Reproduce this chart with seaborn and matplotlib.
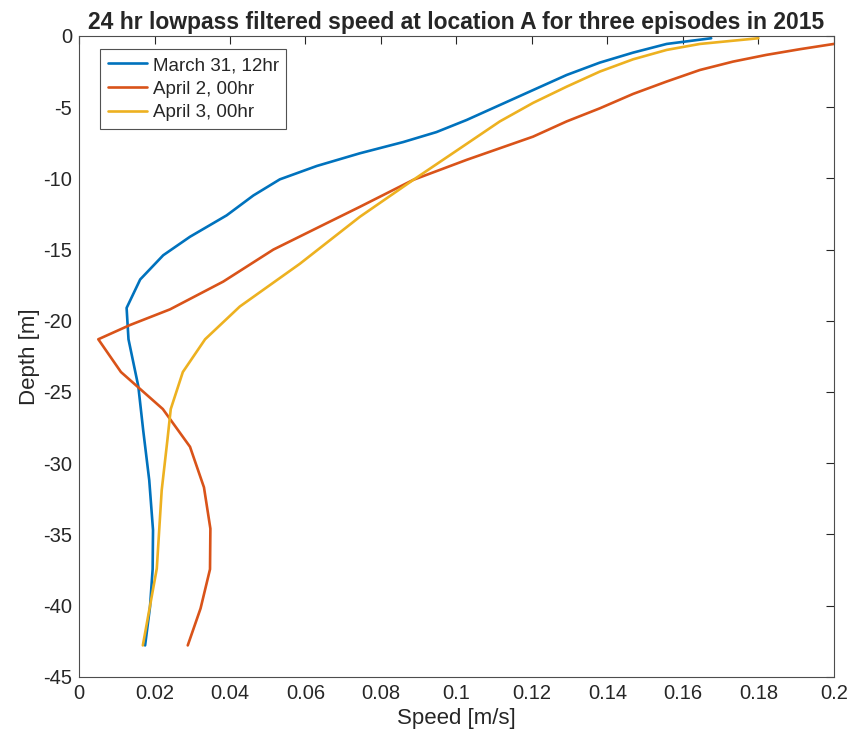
import numpy as np
import pandas as pd
import matplotlib
matplotlib.use("Agg")
import matplotlib.pyplot as plt
import seaborn as sns

# values (speed in m/s, depth in m)
mar31_speed = [0.0175, 0.0188, 0.0195, 0.0196, 0.0186, 0.0170, 0.0157, 0.0131, 0.0126,
               0.0162, 0.0223, 0.0294, 0.0391, 0.0462, 0.0532, 0.0630, 0.0744, 0.0859,
               0.0947, 0.1027, 0.1115, 0.1203, 0.1292, 0.1380, 0.1468, 0.1557, 0.1675]
mar31_depth = [-42.8, -40.1, -37.45, -34.7, -31.2, -27.7, -24.6, -21.3, -19.1,
               -17.1, -15.4, -14.1, -12.6, -11.2, -10.07, -9.13, -8.24, -7.45,
               -6.75, -5.9, -4.85, -3.8, -2.74, -1.87, -1.17, -0.56, -0.16]

apr2_speed = [0.0288, 0.0322, 0.0347, 0.0348, 0.0331, 0.0294, 0.0222, 0.0111, 0.0051,
              0.0135, 0.0241, 0.0382, 0.0515, 0.0656, 0.0744, 0.0886, 0.1027, 0.1203,
              0.1292, 0.1380, 0.1468, 0.1557, 0.1645, 0.1733, 0.1821, 0.1910, 0.2000]
apr2_depth = [-42.8, -40.2, -37.45, -34.6, -31.7, -28.85, -26.2, -23.6, -21.3,
              -20.3, -19.2, -17.25, -15.0, -13.15, -12.0, -10.1, -8.7, -7.07,
              -6.0, -5.08, -4.07, -3.2, -2.39, -1.8, -1.33, -0.93, -0.56]

apr3_speed = [0.0169, 0.0206, 0.0219, 0.0234, 0.0243, 0.0275, 0.0334, 0.0426, 0.0585,
              0.0744, 0.0886, 0.1009, 0.1115, 0.1203, 0.1292, 0.1380, 0.1468,
              0.1557, 0.1645, 0.1800]
apr3_depth = [-42.8, -37.4, -31.9, -28.4, -26.2, -23.6, -21.3, -19.0, -16.0,
              -12.7, -10.1, -7.9, -6.0, -4.7, -3.56, -2.5, -1.64,
              -0.98, -0.56, -0.16]

labels = ["March 31, 12hr", "April 2, 00hr", "April 3, 00hr"]
colors = ["#0072BD", "#D95319", "#EDB120"]

frames = []
for lab, s, d in zip(labels, [mar31_speed, apr2_speed, apr3_speed],
                     [mar31_depth, apr2_depth, apr3_depth]):
    frames.append(pd.DataFrame({"speed": s, "depth": d, "episode": lab}))
df = pd.concat(frames, ignore_index=True)

sns.set_style("white")
plt.rcParams['font.family'] = ['Liberation Sans', 'DejaVu Sans']
plt.rcParams['axes.unicode_minus'] = False

fig = plt.figure(figsize=(8.5, 7.34), dpi=100)
ax = fig.add_axes([0.093, 0.078, 0.888, 0.873])

sns.lineplot(data=df, x="speed", y="depth", hue="episode", palette=colors,
             sort=False, estimator=None, linewidth=1.9, ax=ax)

ax.set_xlim(0, 0.2)
ax.set_ylim(-45, 0)
ax.set_xticks(np.arange(0, 0.201, 0.02))
ax.set_xticklabels(["0", "0.02", "0.04", "0.06", "0.08", "0.1", "0.12", "0.14",
                    "0.16", "0.18", "0.2"])
ax.set_yticks(np.arange(-45, 1, 5))
ax.set_yticklabels([str(v) for v in range(-45, 1, 5)])
ax.tick_params(direction="in", length=6, width=0.8, colors="#262626",
               labelsize=14.5, top=True, right=True, pad=5)
for sp in ax.spines.values():
    sp.set_color("#4d4d4d")
    sp.set_linewidth(0.8)

ax.set_xlabel("Speed [m/s]", fontsize=16, color="#262626", labelpad=4)
ax.set_ylabel("Depth [m]", fontsize=16, color="#262626", labelpad=2)
ax.set_title("24 hr lowpass filtered speed at location A for three episodes in 2015",
             fontsize=16.5, fontweight="bold", pad=5)

leg = ax.legend(loc="upper left", bbox_to_anchor=(0.028, 0.979), fontsize=13.5,
                frameon=True, fancybox=False, edgecolor="#262626",
                handlelength=2.1, borderpad=0.4, labelspacing=0.35,
                handletextpad=0.3, borderaxespad=0)
leg.get_frame().set_linewidth(0.8)

fig.savefig("out.png", dpi=100)
